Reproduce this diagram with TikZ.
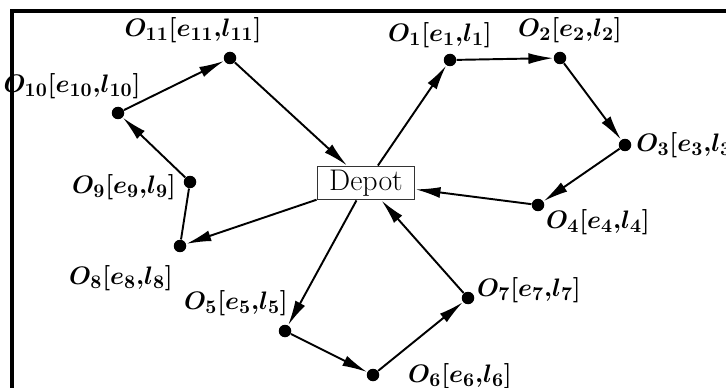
\documentclass[tikz,border=0pt]{standalone}
\usetikzlibrary{arrows.meta}
\tikzset{
  dot/.style={circle, fill=black, inner sep=0pt, minimum size=0.25cm},
  route/.style={-{Latex[length=0.5cm,width=0.22cm]}, line width=1.1pt},
  plain/.style={line width=1.1pt},
  tag/.style={inner sep=0pt, font=\fontsize{15}{18}\selectfont\boldmath},
  depotbox/.style={draw=black!80, line width=1.1pt, minimum width=1.94cm, minimum height=0.66cm, inner sep=0pt, font=\fontsize{17}{20}\selectfont}
}
\begin{document}
\begin{tikzpicture}[x=0.02cm, y=-0.02cm]
            \useasboundingbox (0,0) rectangle (726,388);
            \draw[line width=2pt] (12,388) -- (12,11) -- (726,11);
            % customers
            \node[depotbox] (depot) at (366,183) {Depot};
            \node[dot] (o1) at (450,60) {};
            \node[dot] (o2) at (560,58) {};
            \node[dot] (o3) at (625,145) {};
            \node[dot] (o4) at (538,205) {};
            \node[dot] (o5) at (285,331) {};
            \node[dot] (o6) at (373,375) {};
            \node[dot] (o7) at (468,298) {};
            \node[dot] (o8) at (180,246) {};
            \node[dot] (o9) at (190,182) {};
            \node[dot] (o10) at (118,113) {};
            \node[dot] (o11) at (230,58) {};
            % time windows
            \node[tag] (t1) at (440,35) {$O_1[e_1{,}l_1]$};
            \node[tag] (t2) at (570,30) {$O_2[e_2{,}l_2]$};
            \node[tag, anchor=west] (t3) at (636,145) {$O_3[e_3{,}l_3]$};
            \node[tag] (t4) at (598,222) {$O_4[e_4{,}l_4]$};
            \node[tag] (t5) at (236,303) {$O_5[e_5{,}l_5]$};
            \node[tag] (t6) at (460,376) {$O_6[e_6{,}l_6]$};
            \node[tag] (t7) at (529,290) {$O_7[e_7{,}l_7]$};
            \node[tag] (t8) at (121,278) {$O_8[e_8{,}l_8]$};
            \node[tag] (t9) at (124,187) {$O_9[e_9{,}l_9]$};
            \node[tag] (t10) at (72,86) {$O_{10}[e_{10}{,}l_{10}]$};
            \node[tag] (t11) at (193,30) {$O_{11}[e_{11}{,}l_{11}]$};
            % routes
            \draw[route] (depot) -- (o1);
            \draw[route] (o1) -- (o2);
            \draw[route] (o2) -- (o3);
            \draw[route] (o3) -- (o4);
            \draw[route] (o4) -- (depot);
            \draw[route] (depot) -- (o5);
            \draw[route] (o5) -- (o6);
            \draw[route] (o6) -- (o7);
            \draw[route] (o7) -- (depot);
            \draw[route] (depot) -- (o8);
            \draw[plain] (o8) -- (o9);
            \draw[route] (o9) -- (o10);
            \draw[route] (o10) -- (o11);
            \draw[route] (o11) -- (depot);
\end{tikzpicture}
\end{document}
